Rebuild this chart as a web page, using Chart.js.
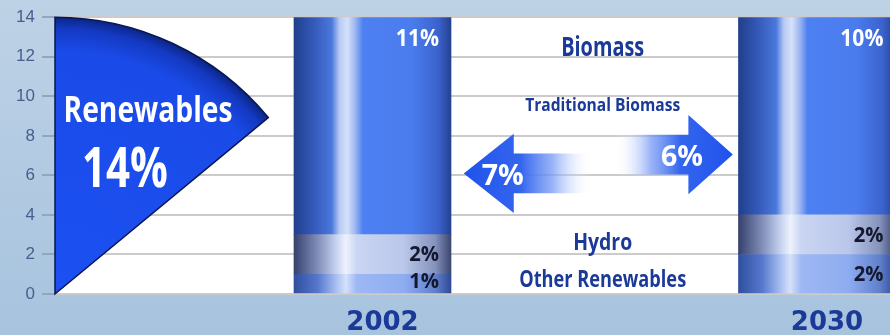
<!DOCTYPE html>
<html>
<head>
<meta charset="utf-8">
<script src="https://cdn.jsdelivr.net/npm/chart.js@4.4.1/dist/chart.umd.min.js"></script>
<style>
  html, body { margin: 0; padding: 0; }
  body {
    width: 890px;
    height: 335px;
    overflow: hidden;
    background: linear-gradient(180deg, #bed2e6 0%, #b1cae2 55%, #a7c3de 100%);
  }
  #wrap { position: relative; width: 890px; height: 335px; }
</style>
</head>
<body>
<div id="wrap"><canvas id="energyChart" width="890" height="335"></canvas></div>
<script>
// share of renewables in primary energy (%)
const years = [2002, 2030];
const otherRenewables = [1, 2];
const hydro = [2, 2];
const biomass = [11, 10];
const renewablesShare = 14;
const traditionalBiomass = [7, 6];
const yTicks = [0, 2, 4, 6, 8, 10, 12, 14];

const FONT = '"Open Sans", "Noto Sans", sans-serif';
const NAVY = '#1b3a98';
const BAR_W = 157;

const stops = {
  biomass: [[0, '#203f8c'], [0.12, '#3358b8'], [0.24, '#4a78dc'], [0.29, '#b8cbf3'], [0.34, '#d6e1fa'],
            [0.39, '#9cb6f0'], [0.44, '#4d80f2'], [0.75, '#4a7cee'], [0.92, '#3b62cc'], [1, '#24428f']],
  hydro: [[0, '#36426c'], [0.15, '#7f8db8'], [0.27, '#c7d3f0'], [0.33, '#eef2fc'], [0.4, '#c9d5f2'],
          [0.7, '#bac7ea'], [0.9, '#8592bb'], [1, '#3c4770']],
  other: [[0, '#2f4f9e'], [0.15, '#5677cc'], [0.27, '#a9c0f2'], [0.33, '#d6e1fa'], [0.4, '#9db8f3'],
          [0.7, '#8eacf0'], [0.9, '#6080cc'], [1, '#2f4a95']]
};

function barFill(kind) {
  return (ctx) => {
    const chart = ctx.chart;
    if (!chart.chartArea || ctx.dataIndex === undefined) return stops[kind][6][1];
    const cx = chart.scales.x.getPixelForValue(years[ctx.dataIndex]);
    const g = chart.ctx.createLinearGradient(cx - BAR_W / 2, 0, cx + BAR_W / 2, 0);
    stops[kind].forEach(([o, c]) => g.addColorStop(o, c));
    return g;
  };
}

// bold condensed caption: squeezed horizontally to the given width (or factor)
function caption(ctx, text, x, y, size, color, align, width) {
  ctx.save();
  ctx.font = 'bold ' + size + 'px ' + FONT;
  ctx.fillStyle = color;
  ctx.textAlign = align;
  ctx.textBaseline = 'alphabetic';
  const sx = width > 2 ? width / ctx.measureText(text).width : width;
  ctx.translate(x, y);
  ctx.scale(sx, 1);
  ctx.fillText(text, 0, 0);
  ctx.restore();
}

// white plot background
const plotBg = {
  id: 'plotBg',
  beforeDraw(chart) {
    const { ctx, chartArea: a } = chart;
    ctx.save();
    ctx.fillStyle = '#ffffff';
    ctx.fillRect(a.left, a.top, a.right - a.left, a.bottom - a.top);
    ctx.restore();
  }
};

function arrow(ctx, x, yScale, a) {
  const yc = yScale.getPixelForValue(a.y);
  const unit = yScale.getPixelForValue(0) - yScale.getPixelForValue(1);
  const tip = x.getPixelForValue(a.tip);
  const base = x.getPixelForValue(a.base);
  const tail = x.getPixelForValue(a.tail);
  const sh = a.shaft * unit, hh = a.head * unit;
  ctx.beginPath();
  ctx.moveTo(tip, yc);
  ctx.lineTo(base, yc - hh);
  ctx.lineTo(base, yc - sh);
  ctx.lineTo(tail, yc - sh);
  ctx.lineTo(tail, yc + sh);
  ctx.lineTo(base, yc + sh);
  ctx.lineTo(base, yc + hh);
  ctx.closePath();
  const g = ctx.createLinearGradient(tip, 0, tail, 0);
  g.addColorStop(0, '#1f52ec');
  g.addColorStop(0.45, '#3566ee');
  g.addColorStop(0.7, 'rgba(120,155,245,0.75)');
  g.addColorStop(1, 'rgba(255,255,255,0)');
  ctx.fillStyle = g;
  ctx.fill();
  caption(ctx, a.text, x.getPixelForValue(a.textX), yc + a.dy, 29, '#ffffff', 'center', 42);
}

// renewables wedge, traditional biomass arrows and captions
const annotations = {
  id: 'annotations',
  beforeDatasetsDraw(chart) {
    const { ctx, scales: { x, y } } = chart;
    const cx = x.left;
    const cy = y.getPixelForValue(0);
    const r = cy - y.getPixelForValue(renewablesShare);
    const start = -Math.PI / 2;
    const end = start + renewablesShare / 100 * Math.PI * 2;
    ctx.save();
    ctx.beginPath();
    ctx.moveTo(cx, cy);
    ctx.arc(cx, cy, r, start, end);
    ctx.closePath();
    const rg = ctx.createRadialGradient(cx, cy, 0, cx, cy, r);
    rg.addColorStop(0, '#1c50f2');
    rg.addColorStop(0.88, '#1a4be8');
    rg.addColorStop(0.96, '#1439c2');
    rg.addColorStop(1, '#0b2585');
    ctx.fillStyle = rg;
    ctx.fill();
    ctx.lineWidth = 1.5;
    ctx.strokeStyle = '#0a1650';
    ctx.stroke();

    caption(ctx, 'Renewables', cx + 93, 122, 36, '#ffffff', 'center', 169);
    caption(ctx, renewablesShare + '%', cx + 70, 187, 55, '#ffffff', 'center', 86);

    arrow(ctx, x, y, { y: 6.1, tip: 2007.75, base: 2010.9, tail: 2015.8, shaft: 1.0, head: 2.0,
                       text: traditionalBiomass[0] + '%', textX: 2010.2, dy: 12 });
    arrow(ctx, x, y, { y: 7.05, tip: 2024.7, base: 2021.9, tail: 2017.3, shaft: 1.0, head: 2.0,
                       text: traditionalBiomass[1] + '%', textX: 2021.5, dy: 11 });

    const mid = x.getPixelForValue(2016.5);
    caption(ctx, 'Biomass', mid, 56, 26, NAVY, 'center', 83);
    caption(ctx, 'Traditional Biomass', mid, 111, 18, NAVY, 'center', 155);
    caption(ctx, 'Hydro', mid, 250, 24, NAVY, 'center', 59);
    caption(ctx, 'Other Renewables', mid, 287, 23, NAVY, 'center', 167);
    ctx.restore();
  },
  afterDatasetsDraw(chart) {
    const { ctx } = chart;
    chart.data.datasets.forEach((ds, i) => {
      chart.getDatasetMeta(i).data.forEach((bar, j) => {
        const right = bar.x + BAR_W / 2 - 12;
        const text = ds.data[j] + '%';
        if (ds.label === 'Biomass') {
          caption(ctx, text, right, bar.y + 29, 24, '#ffffff', 'right', 0.88);
        } else {
          const yBase = Math.min((bar.y + bar.base) / 2 + 7, bar.base - 5);
          caption(ctx, text, right, yBase, 22, '#14182e', 'right', 0.92);
        }
      });
    });
  }
};

new Chart(document.getElementById('energyChart').getContext('2d'), {
  type: 'bar',
  data: {
    labels: years,
    datasets: [
      { label: 'Other Renewables', data: otherRenewables, backgroundColor: barFill('other'), barThickness: BAR_W },
      { label: 'Hydro', data: hydro, backgroundColor: barFill('hydro'), barThickness: BAR_W },
      { label: 'Biomass', data: biomass, backgroundColor: barFill('biomass'), barThickness: BAR_W }
    ]
  },
  options: {
    responsive: false,
    animation: false,
    layout: { padding: { top: 16, left: 0, right: 0, bottom: 0 } },
    plugins: {
      legend: { display: false },
      tooltip: { enabled: false }
    },
    scales: {
      x: {
        type: 'linear',
        stacked: true,
        offset: false,
        min: 1982,
        max: 2034.6,
        grid: { display: false },
        border: { display: false },
        afterBuildTicks: (axis) => { axis.ticks = years.map(v => ({ value: v })); },
        afterFit: (axis) => { axis.height = 41; },
        ticks: {
          callback: (v) => String(v),
          color: NAVY,
          font: { family: '"DejaVu Sans", sans-serif', weight: 'bold', size: 26 },
          padding: 6,
          labelOffset: 10,
          maxRotation: 0
        }
      },
      y: {
        stacked: true,
        min: 0,
        max: 14,
        border: { display: false },
        afterFit: (axis) => { axis.width = 55; },
        grid: { color: '#cbcbcb', lineWidth: 2, tickLength: 13, tickColor: '#93a6c0' },
        ticks: {
          stepSize: 1,
          padding: 7,
          color: '#4a5c8e',
          font: { family: '"Liberation Sans", sans-serif', size: 17 },
          callback: (v) => yTicks.includes(v) ? v : ''
        }
      }
    }
  },
  plugins: [plotBg, annotations]
});
</script>
</body>
</html>
